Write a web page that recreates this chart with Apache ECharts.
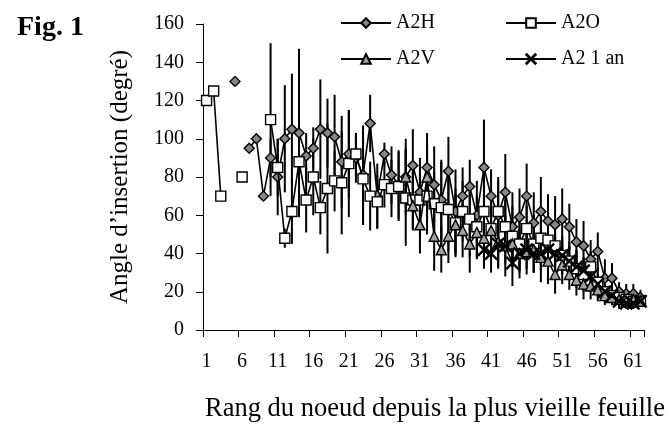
<!DOCTYPE html>
<html><head><meta charset="utf-8">
<script src="https://cdn.jsdelivr.net/npm/echarts@6/dist/echarts.min.js"></script>
<style>html,body{margin:0;padding:0;background:#fff}#c{width:669px;height:428px}</style>
</head><body><div id="c"></div><script>
const categories = ['1','2','3','4','5','6','7','8','9','10','11','12','13','14','15','16','17','18','19','20','21','22','23','24','25','26','27','28','29','30','31','32','33','34','35','36','37','38','39','40','41','42','43','44','45','46','47','48','49','50','51','52','53','54','55','56','57','58','59','60','61','62'];

const a2h = [null,null,null,null,130,null,95,100,70,90,80,100,105,103,91,95,105,103,101,88,92,90,81,108,70,92,81,76,80,86,72,85,76,68,83,62,70,75,60,85,70,60,72,54,59,70,56,62,57,55,58,54,46,44,37,41,27,27,20,19,19,17];
const a2hErr = [null,null,null,null,0,null,0,0,0,10,20,28,29,44,12,11,26,18,22,24,23,13,26,15,17,6,15,18,20,19,18,18,20,20,18,22,15,14,18,25,14,18,20,18,15,17,16,18,14,15,16,12,12,13,10,10,10,8,5,5,5,4];

const a2o = [120,125,70,null,null,80,null,null,null,110,85,48,62,88,68,80,64,74,78,77,87,92,79,70,67,76,74,75,69,68,68,70,66,64,63,56,62,58,54,62,53,62,54,49,45,53,45,48,47,44,39,36,32,29,33,25,20,18,17,16,15,15];
const a2oErr = [0,0,0,null,null,0,null,null,null,40,15,5,17,28,17,20,14,34,16,27,28,11,24,18,14,12,15,18,25,16,18,20,17,25,22,18,16,20,16,18,16,18,14,16,14,12,15,14,12,12,10,10,10,9,8,8,6,5,4,4,4,3];

const a2v = [null,null,null,null,null,null,null,null,null,null,null,null,null,null,null,null,null,null,null,null,null,null,null,null,null,null,null,null,80,65,55,80,49,42,49,55,52,45,51,48,52,46,44,45,40,41,42,38,36,29,34,29,26,24,23,21,18,17,16,15,16,15];
const a2vErr = [null,null,null,null,null,null,null,null,null,null,null,null,null,null,null,null,null,null,null,null,null,null,null,null,null,null,null,null,15,12,15,18,18,12,14,16,14,15,14,13,15,14,16,12,13,12,12,13,12,10,10,8,8,8,7,6,5,4,4,3,3,3];

const a21an = [null,null,null,null,null,null,null,null,null,null,null,null,null,null,null,null,null,null,null,null,null,null,null,null,null,null,null,null,null,null,null,null,null,null,null,null,null,null,null,42,40,45,44,35,40,42,40,40,42,40,39,36,33,31,28,24,20,18,15,14,14,15];
const a21anErr = [null,null,null,null,null,null,null,null,null,null,null,null,null,null,null,null,null,null,null,null,null,null,null,null,null,null,null,null,null,null,null,null,null,null,null,null,null,null,null,10,10,12,10,12,10,10,10,9,9,9,8,8,8,7,7,6,5,4,4,3,3,3];

const yTicks = [0,20,40,60,80,100,120,140,160];

const FONT = '"Liberation Serif","Times New Roman",Times,serif';
const chart = echarts.init(document.getElementById('c'), null, {renderer:'canvas'});

function errData(vals, errs){
  const out = [];
  vals.forEach((v,i)=>{ if(v!=null && errs[i]!=null && errs[i]>0) out.push([i, v, errs[i]]); });
  return out;
}
function errSeries(name, vals, errs){
  return {
    type:'custom', name: name+' err', data: errData(vals, errs), encode:{x:0,y:1},
    silent:true, z:1,
    renderItem:(params, api)=>{
      const i = api.value(0), v = api.value(1), e = api.value(2);
      const p1 = api.coord([i, v+e]), p2 = api.coord([i, v-e]);
      return {type:'line', shape:{x1:p1[0],y1:p1[1],x2:p2[0],y2:p2[1]}, style:{stroke:'#000', lineWidth:2}};
    }
  };
}
function lineSeries(name, vals, symbol, size, fill, z){
  return {
    type:'line', name:name, data:vals, symbol:symbol, symbolSize:size, showSymbol:true, showAllSymbol:true,
    connectNulls:false, z:z,
    lineStyle:{color:'#000', width:1.6},
    itemStyle:{color:fill, borderColor:'#000', borderWidth:1.4},
    emphasis:{disabled:true}
  };
}
const XSYM = 'path://M0,0.6L0.6,0L5,4.4L9.4,0L10,0.6L5.6,5L10,9.4L9.4,10L5,5.6L0.6,10L0,9.4L4.4,5Z';

chart.setOption({
  animation:false,
  backgroundColor:'#fff',
  title:{text:'Fig. 1', left:12, top:9, textStyle:{fontFamily:FONT, fontWeight:'bold', fontSize:28, color:'#000'}},
  legend:[
    {orient:'vertical', left:335, top:8, itemWidth:50, itemHeight:12, itemGap:16,
     data:['A2H','A2V'], textStyle:{fontFamily:FONT, fontSize:20, color:'#000'}},
    {orient:'vertical', left:500, top:8, itemWidth:50, itemHeight:12, itemGap:16,
     data:['A2O','A2 1 an'], textStyle:{fontFamily:FONT, fontSize:20, color:'#000'}}
  ],
  grid:{left:203, right:25, top:24, bottom:97, containLabel:false},
  xAxis:{
    type:'category', data:categories, boundaryGap:true,
    name:'Rang du noeud depuis la plus vieille feuille', nameLocation:'middle', nameGap:66,
    nameTextStyle:{fontFamily:FONT, fontSize:26.5, color:'#000', padding:[0,0,0,23]},
    axisLine:{lineStyle:{color:'#000', width:1}},
    axisTick:{show:true, interval:4, length:7, lineStyle:{color:'#000'}},
    axisLabel:{interval:4, margin:22, fontFamily:FONT, fontSize:20, color:'#000'},
    splitLine:{show:false}
  },
  yAxis:{
    type:'value', min:yTicks[0], max:yTicks[yTicks.length-1], interval:20,
    name:'Angle d’insertion (degré)', nameLocation:'middle', nameGap:70, nameRotate:90,
    nameTextStyle:{fontFamily:FONT, fontSize:25, color:'#000'},
    axisLine:{show:true, lineStyle:{color:'#000', width:1}},
    axisTick:{show:true, length:7, lineStyle:{color:'#000'}},
    axisLabel:{margin:19, fontFamily:FONT, fontSize:20, color:'#000'},
    splitLine:{show:false}
  },
  series:[
    errSeries('A2H', a2h, a2hErr),
    errSeries('A2O', a2o, a2oErr),
    errSeries('A2V', a2v, a2vErr),
    errSeries('A2 1 an', a21an, a21anErr),
    lineSeries('A2H', a2h, 'diamond', 10, '#858585', 3),
    lineSeries('A2O', a2o, 'rect', 10, '#ffffff', 4),
    lineSeries('A2V', a2v, 'triangle', 10, '#a0a0a0', 5),
    lineSeries('A2 1 an', a21an, XSYM, 12, '#000', 6)
  ]
});
</script></body></html>
